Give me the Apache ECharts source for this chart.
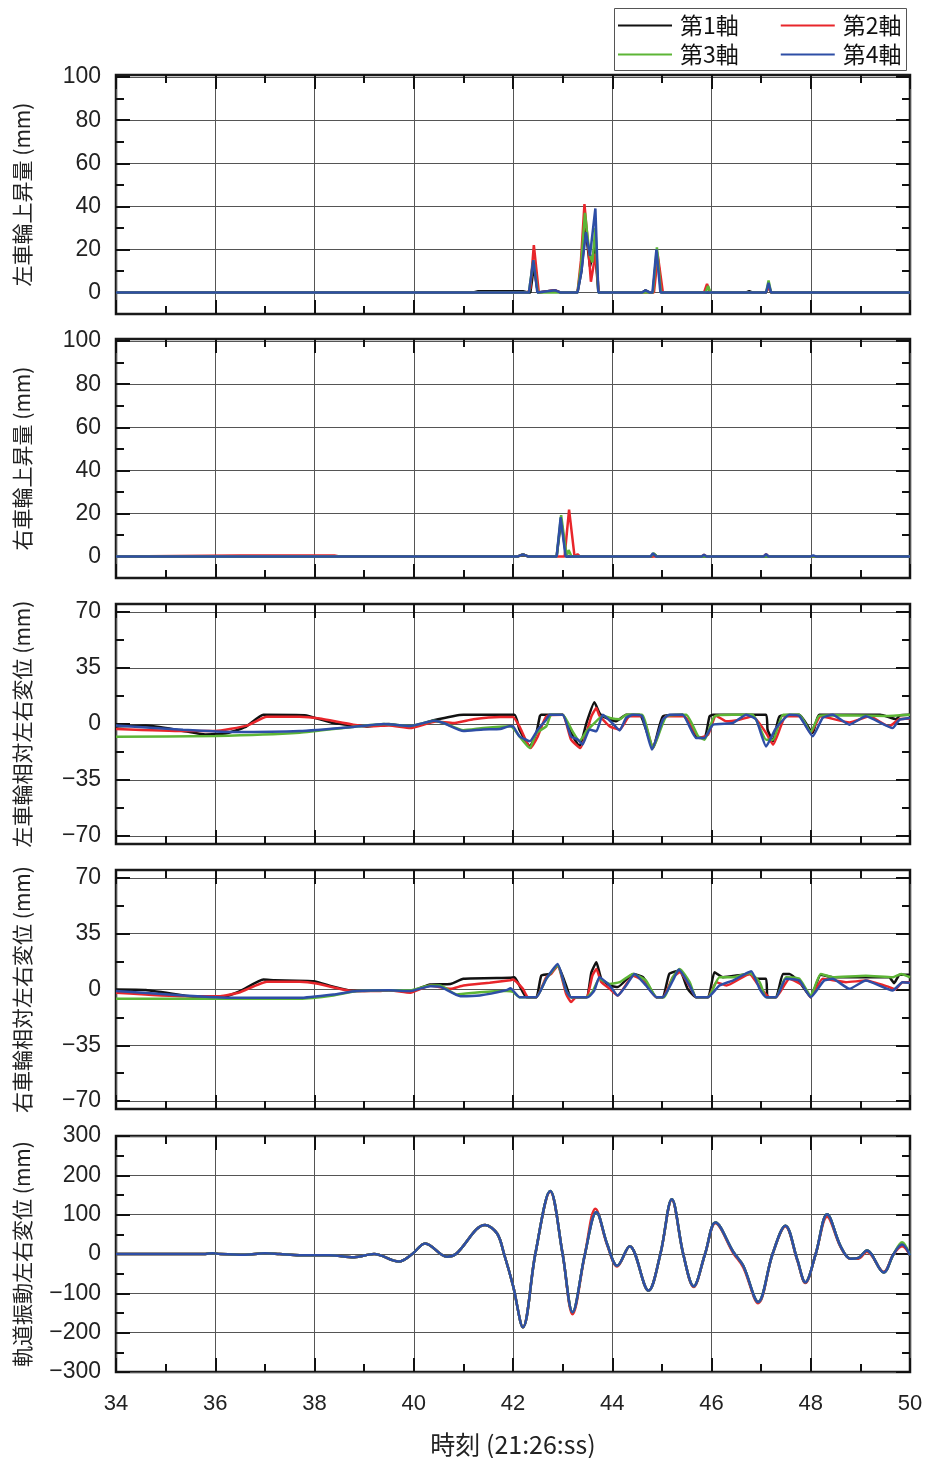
<!DOCTYPE html>
<html><head><meta charset="utf-8">
<script src="https://cdn.jsdelivr.net/npm/echarts@6/dist/echarts.min.js"></script>
<style>html,body{margin:0;padding:0;background:#fff}#c{width:927px;height:1458px}</style>
</head><body><div id="c"></div>
<script>
// ---------- data ----------
const seriesNames = ['第1軸', '第2軸', '第3軸', '第4軸'];
const seriesColors = ['#111111', '#e8262b', '#5db536', '#2e4ea6'];
const xMin = 34, xMax = 50, xStep = 2;

const ticksLift = [0, 20, 40, 60, 80, 100];
const minorLift = [10, 30, 50, 70, 90];
const ticksLat = [-70, -35, 0, 35, 70];
const minorLat = [-52.5, -17.5, 17.5, 52.5];
const ticksTrack = [-300, -200, -100, 0, 100, 200, 300];
const minorTrack = [-250, -150, -50, 50, 150, 250];

const yNames = ['左車輪上昇量 (mm)', '右車輪上昇量 (mm)', '左車輪相対左右変位 (mm)', '右車輪相対左右変位 (mm)', '軌道振動左右変位 (mm)'];
const xName = '時刻 (21:26:ss)';

// panel 1: left wheel lift
const p1Black = [[34,0],[41.2,0],[41.3,0.6],[42.2,0.6],[42.3,0],[42.35,0],[42.42,12],[42.5,0],[42.85,1],[42.95,0],[43.3,0],[43.38,10],[43.46,30],[43.55,12],[43.65,21],[43.72,0],[44.6,0],[44.67,1],[44.75,0],[44.82,0],[44.9,19],[45.0,0],[46.7,0],[46.76,0.6],[46.82,0],[47.1,0],[47.15,3],[47.2,0],[50,0]];
const p1Red = [[34,0],[42.3,0],[42.35,2],[42.42,22],[42.52,0],[42.85,1],[42.95,0],[43.3,0],[43.37,15],[43.44,41],[43.52,20],[43.57,5],[43.62,12],[43.66,18],[43.73,0],[44.84,0],[44.92,17],[45.02,0],[45.85,0],[45.91,4],[45.97,0],[47.1,0],[47.15,2.5],[47.2,0],[50,0]];
const p1Green = [[34,0],[42.32,0],[42.41,15],[42.5,0],[43.3,0],[43.37,12],[43.45,37],[43.54,18],[43.6,14],[43.66,30],[43.72,0],[44.82,0],[44.9,21],[44.98,0],[45.88,0],[45.93,3],[45.98,0],[47.1,0],[47.15,5.6],[47.2,0],[50,0]];
const p1Blue = [[34,0],[42.32,0],[42.41,15],[42.49,0],[42.85,1],[42.95,0],[43.3,0],[43.38,10],[43.47,28],[43.55,17],[43.66,39],[43.72,0],[44.6,0],[44.67,1],[44.75,0],[44.81,0],[44.89,20],[44.97,0],[47.1,0],[47.15,4.5],[47.2,0],[50,0]];

// panel 2: right wheel lift
const p2Black = [[34,0],[42.1,0],[42.2,1],[42.3,0],[42.88,0],[42.97,17],[43.07,0],[44.8,0],[44.84,1.2],[44.9,0],[50,0]];
const p2Red = [[34,0],[36.5,0.5],[38.4,0.5],[38.5,0],[42.1,0],[42.2,1],[42.3,0],[43.04,0],[43.13,21.8],[43.24,0],[43.3,1],[43.35,0],[45.8,0],[45.85,0.8],[45.9,0],[47.05,0],[47.1,1],[47.15,0],[50,0]];
const p2Green = [[34,0],[42.1,0],[42.2,1],[42.3,0],[42.88,0],[42.97,19.2],[43.08,0],[43.12,3],[43.18,0],[44.78,0],[44.83,1.5],[44.9,0],[50,0]];
const p2Blue = [[34,0],[42.1,0],[42.2,1],[42.3,0],[42.88,0],[42.96,18.2],[43.06,0],[44.77,0],[44.82,1.5],[44.88,0],[45.8,0],[45.85,0.8],[45.9,0],[47.05,0],[47.1,1],[47.15,0],[48.0,0],[48.05,0.5],[48.1,0],[50,0]];

// panel 3: left wheel relative lateral displacement
const p3Black = [[34,-1.5],[34.6,-1],[35.3,-4],[35.8,-6.5],[36.2,-6],[36.6,-2],[36.97,5.8],[37.8,5.5],[38.38,0.6],[39.05,-1.5],[39.5,0],[39.93,-2],[40.4,2.3],[41.0,5.8],[42.03,5.8],[42.13,-3.5],[42.34,-14],[42.47,-5.6],[42.54,4.8],[42.57,5.8],[43.0,5.8],[43.17,-5.6],[43.34,-14],[43.48,0.6],[43.64,13.6],[43.74,7],[43.81,4.8],[43.98,2.7],[44.08,1.7],[44.28,5.8],[44.55,5.8],[44.82,-15],[45.02,4.8],[45.42,5.8],[45.69,-7.7],[45.86,-8.7],[45.96,4.8],[46.03,5.8],[47.1,5.8],[47.13,-3.5],[47.24,-10.8],[47.37,4.8],[47.77,5.8],[48.04,-5.6],[48.17,5.8],[49.4,5.8],[49.72,3],[49.8,5.5],[50,5.8]];
const p3Red = [[34,-3.1],[35.35,-4.4],[36.0,-4.4],[36.64,-1],[37.04,4.5],[37.7,4.5],[38.1,3.4],[38.78,-0.4],[39.17,-1.4],[39.5,-0.9],[39.93,-2.5],[40.45,1.6],[40.8,0.6],[41.2,3],[41.74,4.4],[42.0,4.4],[42.13,-1.5],[42.35,-15],[42.5,-7.7],[42.67,4.8],[43.0,5.8],[43.17,-9.8],[43.36,-15],[43.58,4.8],[43.68,10],[43.74,5.3],[43.95,-1.5],[44.15,-3.5],[44.35,4.8],[44.6,4.8],[44.82,-15],[45.08,4.8],[45.45,4.8],[45.76,-8.7],[45.93,-6.7],[46.09,5.2],[46.3,1.7],[46.56,2.7],[46.83,4.8],[47.1,-5.6],[47.24,-12.9],[47.5,4.8],[47.77,4.8],[48.0,-5.6],[48.2,4.8],[48.78,1],[49.18,4.8],[49.58,-1.5],[49.78,3],[50,3.5]];
const p3Green = [[34,-8],[36.0,-7.5],[37.7,-5.5],[38.72,-2],[39.4,0],[39.93,-1.2],[40.4,2],[40.6,0.6],[41.0,-3.9],[41.4,-2.5],[41.95,-1.4],[42.0,-2.5],[42.34,-15],[42.47,-5.6],[42.67,-1.5],[42.77,5.8],[43.0,5.8],[43.2,-4.6],[43.34,-10.8],[43.48,-4.6],[43.64,0.6],[43.81,5.2],[43.95,3.8],[44.15,3],[44.28,5.8],[44.6,5.8],[44.82,-15],[45.09,4.8],[45.49,5.8],[45.73,-7.7],[45.86,-9.8],[46.06,4.8],[46.43,5.8],[46.83,5.8],[47.1,-9.8],[47.24,-9.8],[47.44,5.8],[47.77,5.8],[48.0,-5.2],[48.17,5.2],[48.5,5.5],[49.5,5],[50,5.8]];
const p3Blue = [[34,-1],[35.35,-3.6],[36.36,-5],[37.7,-4.4],[38.72,-2],[39.4,0],[39.93,-1.2],[40.4,2],[40.6,0.6],[41.0,-4.4],[41.4,-3.4],[41.74,-3.1],[41.93,-1.4],[42.0,-1.5],[42.13,-7.7],[42.34,-10.8],[42.5,-3.5],[42.67,2.7],[42.74,5.8],[43.0,5.8],[43.17,-7.7],[43.31,-9.8],[43.4,-12.9],[43.54,-3.5],[43.68,-4.6],[43.81,5.8],[44.0,0.6],[44.15,-4],[44.28,3.8],[44.42,5.8],[44.6,5],[44.8,-16],[45.02,2.7],[45.15,5.8],[45.42,5.8],[45.69,-8.7],[45.86,-8.7],[46.03,-0.4],[46.43,0.6],[46.7,5.8],[46.9,2.7],[47.1,-14],[47.3,-2.5],[47.57,5.8],[47.77,5],[48.04,-7.7],[48.24,3.8],[48.44,5.8],[48.78,-0.4],[49.11,4.8],[49.65,-2.5],[49.79,2.7],[50,3.8]];

// panel 4: right wheel relative lateral displacement
const p4Black = [[34,0],[34.6,-0.3],[35.7,-5.2],[36.03,-5.8],[36.5,-1],[36.97,6.25],[37.2,5.8],[37.98,5.2],[38.38,1.7],[38.78,-1],[39.5,-0.5],[39.93,-1],[40.33,3.1],[40.74,3.5],[41.0,6.7],[41.94,7.3],[42.03,7.7],[42.13,2.5],[42.27,-4.8],[42.47,-4.8],[42.57,8.7],[42.74,9.8],[42.9,15],[43.07,2.5],[43.17,-4.8],[43.48,-4.8],[43.58,10.8],[43.68,17.1],[43.78,6.7],[43.95,2.5],[44.11,1.5],[44.42,9.8],[44.62,7.7],[44.89,-4.8],[45.02,-4.8],[45.15,9.8],[45.36,11.9],[45.52,0.4],[45.69,-4.8],[45.93,-4.8],[46.06,10.8],[46.23,7.7],[46.77,9.8],[46.9,6.7],[47.1,6.7],[47.13,-4.8],[47.3,-4.8],[47.44,9.8],[47.57,9.8],[47.8,3.5],[48.0,-4.8],[48.2,9.2],[48.44,7.7],[49.58,7.7],[49.68,4],[49.79,9.2],[50,9.2]];
const p4Red = [[34,-2],[35.36,-4.2],[36.1,-4.2],[36.5,-1.7],[37.04,4.8],[37.7,4.8],[38.04,3.8],[38.78,-1],[39.25,-1],[39.5,-0.5],[39.93,-2],[40.33,2.5],[40.74,0.4],[41.0,2.5],[41.53,4.2],[41.94,5.8],[42.0,6.2],[42.2,0.4],[42.3,-4.8],[42.47,-4.8],[42.67,7.7],[42.77,9.8],[42.9,15],[43.07,-2.7],[43.17,-7.9],[43.27,-4.8],[43.48,-4.8],[43.6,8.7],[43.68,12.9],[43.78,4.6],[43.95,0.4],[44.11,-3.8],[44.42,8.7],[44.62,5.6],[44.89,-4.8],[45.02,-4.8],[45.22,7.7],[45.36,10.8],[45.59,0.4],[45.69,-4.8],[45.93,-4.8],[46.1,4.6],[46.3,2.5],[46.77,9.8],[46.9,4.6],[47.17,-4.8],[47.3,-4.8],[47.57,6.7],[47.84,2.5],[48.0,-4.8],[48.24,6.7],[48.71,4.6],[49.11,5.6],[49.58,1.5],[49.7,0],[49.85,4.6],[50,4.6]];
const p4Green = [[34,-5.8],[37.7,-5.8],[38.38,-3.75],[38.85,-1],[39.5,-0.5],[39.93,-0.5],[40.33,2.5],[40.53,2.5],[40.87,-3.1],[41.33,-1.7],[41.87,-1],[42.0,-1.5],[42.13,-4.8],[42.47,-4.8],[42.67,6.7],[42.9,15],[43.07,-0.6],[43.17,-4.8],[43.48,-4.8],[43.6,-1.6],[43.74,6.7],[43.95,3.5],[44.15,4.6],[44.42,9.8],[44.68,5.6],[44.89,-4.8],[45.05,-4.8],[45.22,7.7],[45.36,12.9],[45.56,4.6],[45.69,-4.8],[45.93,-4.8],[46.16,7.7],[46.43,7.7],[46.77,10.4],[46.97,4.6],[47.1,-4.8],[47.3,-4.8],[47.5,7.7],[47.77,6.7],[48.0,-3.8],[48.2,9.8],[48.44,7.7],[49.11,8.7],[49.65,7.7],[49.82,9.8],[50,7.7]];
const p4Blue = [[34,-1],[35.36,-3.75],[36.36,-5.2],[37.7,-5.2],[38.38,-3.1],[38.85,-1],[39.5,-0.5],[39.93,-1],[40.33,2.1],[40.53,1.8],[40.94,-4.2],[41.33,-3.75],[41.87,-0.4],[41.95,0.8],[42.13,-4.8],[42.47,-4.8],[42.67,6.7],[42.9,16],[43.07,-0.6],[43.17,-4.8],[43.51,-4.8],[43.64,-0.6],[43.74,7.7],[43.95,2.5],[44.11,-3.8],[44.28,2.5],[44.45,9.8],[44.68,2.5],[44.89,-4.8],[45.02,-4.8],[45.22,5.6],[45.34,12.5],[45.56,2.5],[45.69,-4.8],[45.93,-4.8],[46.16,2.5],[46.43,5.6],[46.8,11.5],[46.97,0.4],[47.1,-4.8],[47.3,-4.8],[47.5,6.7],[47.77,5.6],[48.0,-4.8],[48.27,5.6],[48.44,6.7],[48.78,0.4],[49.11,5.6],[49.65,-0.6],[49.85,4.6],[50,4.2]];

// panel 5: track lateral vibration displacement
const p5Common = [[34,0],[35.8,0],[35.95,2],[36.1,0],[36.6,-2],[37.0,2],[37.3,0],[37.7,-3],[38.3,-3],[38.8,-8],[39.2,0],[39.7,-19],[39.97,0],[40.23,27],[40.67,-7],[40.85,0],[41.44,74],[41.68,52],[41.82,0],[42.0,-80],[42.2,-186],[42.45,0],[42.75,160],[43.0,0],[43.2,-148],[43.45,0],[43.68,107],[43.9,24],[44.1,-30],[44.35,20],[44.73,-93],[44.97,0],[45.2,139],[45.43,0],[45.64,-82],[45.87,0],[46.08,80],[46.44,5],[46.64,-30],[46.94,-122],[47.23,0],[47.49,72],[47.73,-15],[47.89,-72],[48.1,0],[48.33,101],[48.6,20],[48.8,-12],[48.96,-10],[49.13,9],[49.47,-47],[49.67,0],[49.84,24],[50,-3]];
const p5Red = [[34,0],[35.8,0],[35.95,2],[36.1,0],[36.6,-2],[37.0,2],[37.3,0],[37.7,-3],[38.3,-3],[38.8,-8],[39.2,0],[39.7,-19],[39.97,0],[40.23,27],[40.67,-7],[40.85,0],[41.44,74],[41.68,52],[41.82,0],[42.0,-80],[42.2,-186],[42.45,0],[42.75,158],[43.0,0],[43.2,-153],[43.45,0],[43.66,115],[43.9,22],[44.1,-32],[44.35,20],[44.73,-93],[44.97,0],[45.2,137],[45.43,0],[45.64,-84],[45.87,0],[46.08,78],[46.44,2],[46.64,-34],[46.94,-125],[47.23,0],[47.49,70],[47.73,-17],[47.89,-74],[48.1,0],[48.33,95],[48.6,18],[48.8,-12],[48.96,-12],[49.13,6],[49.47,-45],[49.67,0],[49.84,20],[50,-3]];
const p5Green = [[34,0],[35.8,0],[35.95,2],[36.1,0],[36.6,-2],[37.0,2],[37.3,0],[37.7,-3],[38.3,-3],[38.8,-8],[39.2,0],[39.7,-19],[39.97,0],[40.23,27],[40.67,-7],[40.85,0],[41.44,74],[41.68,52],[41.82,0],[42.0,-80],[42.2,-186],[42.45,0],[42.75,160],[43.0,0],[43.2,-148],[43.45,0],[43.68,107],[43.9,24],[44.1,-30],[44.35,20],[44.73,-93],[44.97,0],[45.2,139],[45.43,0],[45.64,-82],[45.87,0],[46.08,80],[46.44,5],[46.64,-30],[46.94,-122],[47.23,0],[47.49,72],[47.73,-15],[47.89,-72],[48.1,0],[48.33,101],[48.6,20],[48.8,-12],[48.96,-10],[49.13,9],[49.47,-47],[49.67,0],[49.84,30],[50,-3]];

// ---------- layout ----------
const panels = [
  {top: 75,   height: 239, min: -10, max: 101, major: ticksLift,  minor: minorLift,  data: [p1Black, p1Red, p1Green, p1Blue], smooth: false},
  {top: 339,  height: 239, min: -10, max: 101, major: ticksLift,  minor: minorLift,  data: [p2Black, p2Red, p2Green, p2Blue], smooth: false},
  {top: 604,  height: 240, min: -75, max: 75,  major: ticksLat,   minor: minorLat,   data: [p3Black, p3Red, p3Green, p3Blue], smooth: 0.15},
  {top: 870,  height: 239, min: -75, max: 75,  major: ticksLat,   minor: minorLat,   data: [p4Black, p4Red, p4Green, p4Blue], smooth: 0.15},
  {top: 1136, height: 238, min: -300, max: 300, major: ticksTrack, minor: minorTrack, data: [p5Common, p5Red, p5Green, p5Common], smooth: 0.35}
];

const FONT_NUM = 'Liberation Sans, Arial, sans-serif';
const FONT_CJK = '"Noto Sans CJK JP", sans-serif';
const gridColor = '#555';
const tickStyle = {color: '#111', width: 2};

const grid = [], xAxis = [], yAxis = [], series = [];
panels.forEach((p, i) => {
  grid.push({left: 116, right: 17, top: p.top, height: p.height, show: true,
    borderColor: '#1a1a1a', borderWidth: 2.5, backgroundColor: 'transparent'});
  const last = i === panels.length - 1;
  ['bottom', 'top'].forEach((pos) => {
    xAxis.push({
      type: 'value', gridIndex: i, position: pos, min: xMin, max: xMax, interval: xStep,
      axisLine: {show: false, onZero: false},
      axisTick: {show: true, inside: true, length: 14, lineStyle: tickStyle},
      minorTick: {show: true, splitNumber: 2, length: 8, lineStyle: tickStyle},
      splitLine: {show: pos === 'bottom', lineStyle: {color: gridColor, width: 1}},
      axisLabel: {show: last && pos === 'bottom', margin: 21, fontSize: 22, color: '#222', fontFamily: FONT_NUM},
      name: (last && pos === 'bottom') ? xName : '',
      nameLocation: 'middle', nameGap: 60,
      nameTextStyle: {fontSize: 25, color: '#222', fontFamily: FONT_CJK}
    });
  });
  const yIndexMain = yAxis.length;
  ['left', 'right'].forEach((pos) => {
    yAxis.push({
      type: 'value', gridIndex: i, position: pos, min: p.min, max: p.max,
      axisLine: {show: false, onZero: false},
      axisTick: {show: true, inside: true, length: 14, lineStyle: tickStyle, customValues: p.major},
      splitLine: {show: pos === 'left', lineStyle: {color: gridColor, width: 1}},
      axisLabel: {show: pos === 'left', customValues: p.major, margin: 15, fontSize: 23, color: '#222',
        fontFamily: FONT_NUM, formatter: (v) => String(v).replace('-', '\u2212')},
      name: pos === 'left' ? yNames[i] : '',
      nameLocation: 'middle', nameRotate: 90, nameGap: 83,
      nameTextStyle: {fontSize: 21, color: '#222', fontFamily: FONT_CJK}
    });
    yAxis.push({
      type: 'value', gridIndex: i, position: pos, min: p.min, max: p.max,
      axisLine: {show: false, onZero: false},
      axisTick: {show: true, inside: true, length: 8, lineStyle: tickStyle, customValues: p.minor},
      splitLine: {show: false},
      axisLabel: {show: false}
    });
  });
  p.data.forEach((d, k) => {
    series.push({
      type: 'line', name: seriesNames[k], xAxisIndex: i * 2, yAxisIndex: yIndexMain,
      data: d, symbol: 'none', showSymbol: false, smooth: p.smooth,
      lineStyle: {color: seriesColors[k], width: 2.5}, itemStyle: {color: seriesColors[k]},
      z: 3 + k, clip: true
    });
  });
});

const legendCommon = {
  itemWidth: 54, itemHeight: 12, itemGap: 42, icon: 'path://M0,5 L54,5 L54,7 L0,7 Z',
  textStyle: {fontSize: 23, color: '#111', fontFamily: FONT_CJK, padding: [0, 0, 0, 3]},
  selectedMode: false
};

const option = {
  animation: false,
  backgroundColor: '#fff',
  grid, xAxis, yAxis, series,
  legend: [
    Object.assign({left: 613, top: 9, data: ['第1軸', '第2軸']}, legendCommon),
    Object.assign({left: 613, top: 38, data: ['第3軸', '第4軸']}, legendCommon)
  ],
  graphic: [{type: 'rect', shape: {x: 614.5, y: 8.5, width: 292, height: 62},
    style: {fill: 'none', stroke: '#555', lineWidth: 1}, z: 100}]
};

const chart = echarts.init(document.getElementById('c'), null, {renderer: 'canvas'});
chart.setOption(option);
</script></body></html>
